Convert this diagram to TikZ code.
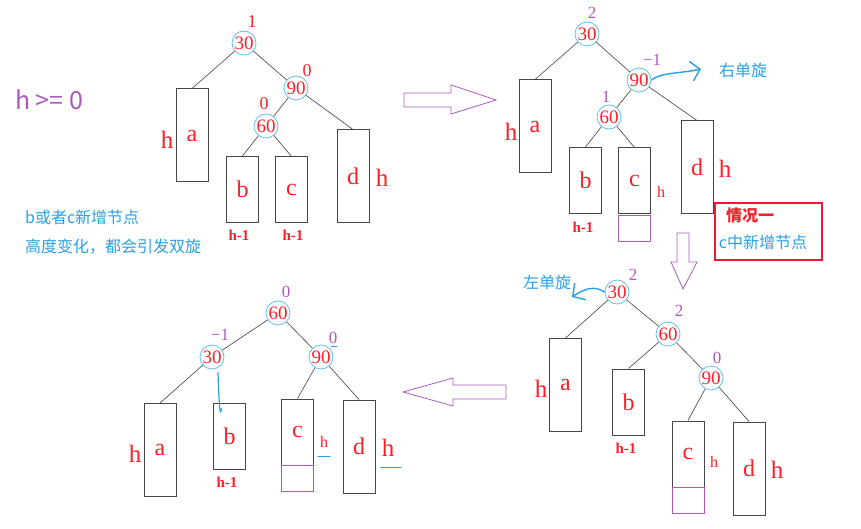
\documentclass[tikz,border=0pt]{standalone}
\usepackage{fontspec}
\setmainfont{Liberation Serif}
\newfontfamily\cjk{Noto Sans CJK SC}
\usetikzlibrary{arrows.meta}
\definecolor{numred}{RGB}{255,30,40}
\definecolor{framered}{RGB}{235,25,50}
\definecolor{bfpurple}{RGB}{170,90,190}
\definecolor{penblue}{RGB}{40,160,230}
\definecolor{ringblue}{RGB}{100,190,240}
\definecolor{framegray}{RGB}{70,70,70}
\tikzset{
  key/.style={circle, draw=ringblue, line width=0.8pt, minimum size=24pt, inner sep=0pt, text=numred, font=\fontsize{19}{19}\selectfont},
  tallbox/.style={draw=framegray, line width=1pt, minimum width=32pt, minimum height=93pt, inner sep=0pt, text=numred, font=\fontsize{24}{24}\selectfont},
  shortbox/.style={tallbox, minimum height=66pt},
  newbox/.style={draw=bfpurple, line width=0.7pt, minimum width=32pt, minimum height=26pt, inner sep=0pt},
  bf/.style={text=bfpurple, inner sep=0pt, font=\fontsize{17}{17}\selectfont},
  bfred/.style={bf, text=numred, font=\fontsize{18}{18}\selectfont},
  hbig/.style={text=numred, inner sep=0pt, font=\fontsize{25}{25}\selectfont},
  hsmall/.style={text=numred, inner sep=0pt, font=\fontsize{16}{16}\selectfont},
  hminus/.style={text=numred, inner sep=0pt, font=\bfseries\fontsize{15}{15}\selectfont},
  edge/.style={draw=black!75, line width=0.6pt},
  pen/.style={draw=penblue, line width=1.4pt, line cap=round},
  turn/.style={pen, -{Straight Barb[length=9pt, width=20pt, line width=1.4pt]}},
  bigarrow/.style={draw=bfpurple, line width=0.8pt, line join=miter},
  note/.style={text=penblue, inner sep=0pt, font=\cjk\fontsize{16}{16}\selectfont},
}
\begin{document}
\begin{tikzpicture}[x=1pt, y=-1pt]
    \useasboundingbox (0,0) rectangle (861,529);

    % Notes on the left
    \node[text=bfpurple, inner sep=0pt, font=\cjk\fontsize{25}{25}\selectfont] (cond) at (49,100) {h >= 0};
    \node[note, anchor=west] (note1) at (25,217) {b或者c新增节点};
    \node[note, anchor=west] (note2) at (25,247) {高度变化，都会引发双旋};

    % Tree 1: before insertion
    \node[key] (t1k30) at (244,43) {30};
    \node[key] (t1k90) at (296,88) {90};
    \node[key] (t1k60) at (266,126) {60};
    \node[bfred] (t1f30) at (252,22) {1};
    \node[bfred] (t1f90) at (307,71) {0};
    \node[bfred] (t1f60) at (264,104) {0};
    \node[tallbox] (t1a) at (192,135.5) {a};
    \node[shortbox] (t1b) at (242.5,189.5) {b};
    \node[shortbox] (t1c) at (291.5,190) {c};
    \node[tallbox] (t1d) at (353,176.5) {d};
    \node[hbig] (t1ha) at (167,140) {h};
    \node[hbig] (t1hd) at (382,178) {h};
    \node[hminus] (t1hb) at (239,235) {h-1};
    \node[hminus] (t1hc) at (293,235) {h-1};
    \draw[edge] (t1k30) -- (t1a.north);
    \draw[edge] (t1k30) -- (t1k90);
    \draw[edge] (t1k90) -- (t1k60);
    \draw[edge] (t1k90) -- (t1d.north);
    \draw[edge] (t1k60) -- (t1b.north);
    \draw[edge] (t1k60) -- (t1c.north);

    % Arrow to tree 2
    \draw[bigarrow] (404,93) -- (451,93) -- (451,85) -- (496,100) -- (451,114) -- (451,107) -- (404,107) -- cycle;

    % Tree 2: node added under c
    \node[key] (t2k30) at (587,34) {30};
    \node[key] (t2k90) at (639,80) {90};
    \node[key] (t2k60) at (609,117) {60};
    \node[bf] (t2f30) at (592,13) {2};
    \node[bf] (t2f90) at (652,60) {−1};
    \node[bf] (t2f60) at (606,97) {1};
    \node[tallbox] (t2a) at (535,126.5) {a};
    \node[shortbox] (t2b) at (585.5,180.5) {b};
    \node[shortbox] (t2c) at (634.5,181) {c};
    \node[newbox] (t2new) at (634.5,228) {};
    \node[tallbox] (t2d) at (697,167.5) {d};
    \node[hbig] (t2ha) at (511,132) {h};
    \node[hbig] (t2hd) at (725,169) {h};
    \node[hsmall] (t2hc) at (661,192) {h};
    \node[hminus] (t2hb) at (583,227) {h-1};
    \draw[edge] (t2k30) -- (t2a.north);
    \draw[edge] (t2k30) -- (t2k90);
    \draw[edge] (t2k90) -- (t2k60);
    \draw[edge] (t2k90) -- (t2d.north);
    \draw[edge] (t2k60) -- (t2b.north);
    \draw[edge] (t2k60) -- (t2c.north);
    \coordinate (t2turn) at (701,69);
    \draw[turn] (t2k90.east) .. controls (662,72) and (678,74) .. (t2turn);
    \node[note] (t2rot) at (743,70) {右单旋};

    % Case box
    \node[draw=framered, line width=1.6pt, minimum width=107pt, minimum height=57pt, inner sep=0pt] (caseBox) at (768.5,231.5) {};
    \node[text=numred, inner sep=0pt, font=\cjk\bfseries\fontsize{16}{16}\selectfont] (caseTitle) at (750,215) {情况一};
    \node[note] (caseText) at (763,242) {c中新增节点};

    % Arrow to tree 3
    \draw[bigarrow] (677,233) -- (689,233) -- (689,262) -- (697,262) -- (683,289) -- (671,262) -- (677,262) -- cycle;

    % Tree 3: after right rotation at 90
    \node[key] (t3k30) at (617,292) {30};
    \node[key] (t3k60) at (668,334) {60};
    \node[key] (t3k90) at (711,378) {90};
    \node[bf] (t3f30) at (633,275) {2};
    \node[bf] (t3f60) at (679,311) {2};
    \node[bf] (t3f90) at (717,358) {0};
    \node[tallbox] (t3a) at (565.5,385) {a};
    \node[shortbox] (t3b) at (628.5,402) {b};
    \node[shortbox] (t3c) at (688,454) {c};
    \node[newbox] (t3new) at (688,500) {};
    \node[tallbox] (t3d) at (749,468.5) {d};
    \node[hbig] (t3ha) at (541,389) {h};
    \node[hbig] (t3hd) at (777,470) {h};
    \node[hsmall] (t3hc) at (714,462) {h};
    \node[hminus] (t3hb) at (626,448) {h-1};
    \draw[edge] (t3k30) -- (t3a.north);
    \draw[edge] (t3k30) -- (t3k60);
    \draw[edge] (t3k60) -- (t3b.north);
    \draw[edge] (t3k60) -- (t3k90);
    \draw[edge] (t3k90) -- (t3c.north);
    \draw[edge] (t3k90) -- (t3d.north);
    \coordinate (t3turn) at (572,297);
    \draw[turn] (t3k30.west) .. controls (594,285) and (584,289) .. (t3turn);
    \node[note] (t3rot) at (547,282) {左单旋};

    % Arrow to tree 4
    \draw[bigarrow] (506,385) -- (453,385) -- (453,378) -- (403,392) -- (453,406) -- (453,399) -- (506,399) -- cycle;

    % Tree 4: after left rotation at 30
    \node[key] (t4k60) at (278,313) {60};
    \node[key] (t4k30) at (212,357) {30};
    \node[key] (t4k90) at (321,357) {90};
    \node[bf] (t4f60) at (286,292) {0};
    \node[bf] (t4f30) at (220,335) {−1};
    \node[bf] (t4f90) at (333,338) {0};
    \node[tallbox] (t4a) at (160,450) {a};
    \node[shortbox] (t4b) at (229.5,436) {b};
    \node[shortbox] (t4c) at (297.5,432) {c};
    \node[newbox] (t4new) at (297.5,478.5) {};
    \node[tallbox] (t4d) at (359,446.5) {d};
    \node[hbig] (t4ha) at (135,454) {h};
    \node[hbig] (t4hd) at (388,448) {h};
    \node[hsmall] (t4hc) at (324,442) {h};
    \node[hminus] (t4hb) at (227,482) {h-1};
    \draw[edge] (t4k60) -- (t4k30);
    \draw[edge] (t4k60) -- (t4k90);
    \draw[edge] (t4k30) -- (t4a.north);
    \draw[pen, line width=1.2pt] ([xshift=6pt, yshift=-3pt]t4k30.south) .. controls ([xshift=-10pt, yshift=-16pt]t4b.north) and ([xshift=-9pt, yshift=-12pt]t4b.north) .. ([xshift=-8pt, yshift=-6pt]t4b.north);
    \draw[edge] (t4k90) -- (t4c.north);
    \draw[edge] (t4k90) -- (t4d.north);
    \draw[pen, line width=1.2pt] ([xshift=-6pt, yshift=-9pt]t4hc.south) -- ([xshift=6pt, yshift=-9pt]t4hc.south);
    \draw[pen, line width=1.2pt] ([xshift=-7pt, yshift=-11pt]t4hd.south) -- ([xshift=13pt, yshift=-11pt]t4hd.south);
    \draw[pen, line width=1pt] ([yshift=-3pt, xshift=-2pt]t4f90.south) -- ([yshift=-3pt, xshift=4pt]t4f90.south);
\end{tikzpicture}
\end{document}
